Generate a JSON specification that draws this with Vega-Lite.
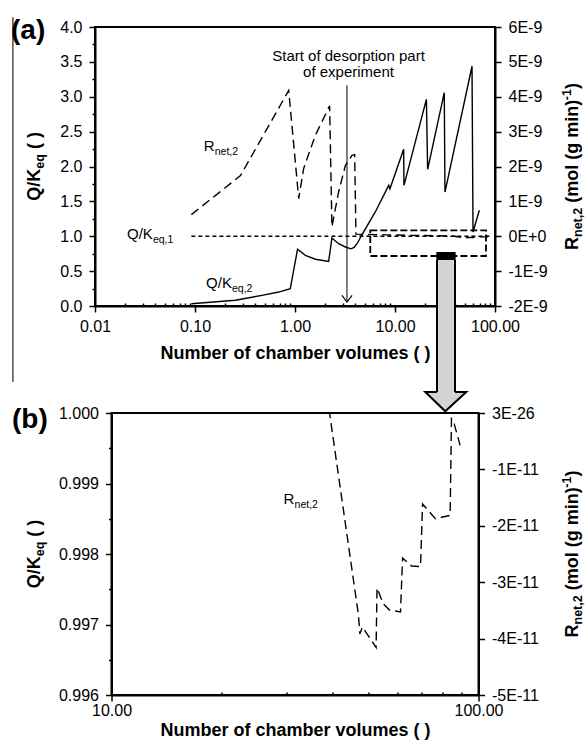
{
  "$schema": "https://vega.github.io/schema/vega-lite/v6.json",
  "padding": {"left": 9, "top": 15, "right": 2, "bottom": 2},
  "spacing": 107,
  "bounds": "flush",
  "center": true,
  "datasets": {
    "qk2": [{"x":0.092,"y":0.033},{"x":0.253,"y":0.082},{"x":0.468,"y":0.153},{"x":0.687,"y":0.2},{"x":0.897,"y":0.248},{"x":1.06,"y":0.813},{"x":1.27,"y":0.727},{"x":1.6,"y":0.67},{"x":2.17,"y":0.64},{"x":2.34,"y":0.975},{"x":2.73,"y":0.893},{"x":3.19,"y":0.846},{"x":3.63,"y":0.82},{"x":3.9,"y":0.84},{"x":4.2,"y":0.9},{"x":4.68,"y":1.022},{"x":6.35,"y":1.348},{"x":8.65,"y":1.73},{"x":8.9,"y":1.68},{"x":12.2,"y":2.247},{"x":12.3,"y":1.73},{"x":20.6,"y":2.963},{"x":21.2,"y":1.96},{"x":31.1,"y":3.058},{"x":31.6,"y":1.634},{"x":58.9,"y":3.437},{"x":60.3,"y":1.061},{"x":69.7,"y":1.372}],
    "qk1": [{"x":0.092,"y":1},{"x":88,"y":1}],
    "rnet": [{"x":0.092,"r":6.2e-10},{"x":0.285,"r":1.74e-9},{"x":0.865,"r":4.18e-9},{"x":1.089,"r":1.08e-9},{"x":1.22,"r":1.94e-9},{"x":1.6,"r":2.9e-9},{"x":2.17,"r":3.68e-9},{"x":2.22,"r":3.74e-9},{"x":2.34,"r":2.7e-10},{"x":2.73,"r":1.27e-9},{"x":3.19,"r":2.03e-9},{"x":3.72,"r":2.32e-9},{"x":3.95,"r":2.34e-9},{"x":4.07,"r":6e-11},{"x":8,"r":4e-11},{"x":15,"r":2.5e-11},{"x":25,"r":1.5e-11},{"x":33,"r":9e-12},{"x":38.2,"r":5.2e-12},{"x":39.3,"r":-1.2e-13},{"x":47.1,"r":-3.587e-11},{"x":47.5,"r":-3.918e-11},{"x":48.3,"r":-3.794e-11},{"x":52.6,"r":-4.158e-11},{"x":52.9,"r":-3.103e-11},{"x":55,"r":-3.38e-11},{"x":57.2,"r":-3.493e-11},{"x":61.3,"r":-3.528e-11},{"x":62.1,"r":-2.571e-11},{"x":65.7,"r":-2.713e-11},{"x":69.5,"r":-2.722e-11},{"x":70.4,"r":-1.613e-11},{"x":76.3,"r":-1.874e-11},{"x":83.7,"r":-1.814e-11},{"x":84.4,"r":-1.01e-12},{"x":85.5,"r":-1.5e-12},{"x":89.1,"r":-5.73e-12}]
  },
  "vconcat": [
    {
      "width": 400,
      "height": 279,
      "resolve": {"scale": {"y": "independent"}},
      "layer": [
        {
          "encoding": {
            "x": {"field": "x", "type": "quantitative", "scale": {"type": "log", "domain": [0.01, 100], "nice": false},
              "axis": {"values": [0.01,0.02,0.03,0.04,0.05,0.06,0.07,0.08,0.09,0.1,0.2,0.3,0.4,0.5,0.6,0.7,0.8,0.9,1,2,3,4,5,6,7,8,9,10,20,30,40,50,60,70,80,90,100],
                "labelExpr": "indexof([0.01,0.1,1,10,100], datum.value) >= 0 ? format(datum.value, '.2f') : ''",
                "tickSize": {"condition": {"test": "indexof([0.01,0.1,1,10,100], datum.value) < 0", "value": -3}, "value": 6},
                "labelPadding": 6, "title": "Number of chamber volumes ( )", "titlePadding": 10}},
            "y": {"field": "y", "type": "quantitative", "scale": {"domain": [0, 4], "nice": false, "zero": false},
              "axis": {"values": [0,0.25,0.5,0.75,1,1.25,1.5,1.75,2,2.25,2.5,2.75,3,3.25,3.5,3.75,4],
                "labelExpr": "datum.value % 0.5 == 0 ? format(datum.value, '.1f') : ''",
                "tickSize": {"condition": {"test": "datum.value % 0.5 != 0", "value": 3}, "value": 6},
                "labelPadding": 7, "title": null}}
          },
          "layer": [
            {"data": {"values": [{"x": 0.00151, "y": 4.14, "y2": -1.09}]}, "mark": {"type": "rule", "color": "#222", "strokeWidth": 1.2}, "encoding": {"y2": {"field": "y2"}}},
            {"data": {"name": "qk1"}, "mark": {"type": "line", "color": "black", "strokeWidth": 1.3, "strokeDash": [4, 3]}},
            {"data": {"name": "qk2"}, "mark": {"type": "line", "color": "black", "strokeWidth": 1.4}},
            {"data": {"values": [{"x": 5.66, "x2": 81.3, "y": 1.085, "y2": 0.717}]}, "mark": {"type": "rect", "fill": "transparent", "stroke": "black", "strokeWidth": 1.8, "strokeDash": [7, 3]}, "encoding": {"x2": {"field": "x2"}, "y2": {"field": "y2"}}},
            {"data": {"values": [{"x": 3.31, "y": 3.164, "y2": 0.057}]}, "mark": {"type": "rule", "color": "black", "strokeWidth": 1}, "encoding": {"y2": {"field": "y2"}}},
            {"data": {"values": [{"x": 2.95, "y": 0.153}, {"x": 3.31, "y": 0.057}, {"x": 3.72, "y": 0.153}]}, "mark": {"type": "line", "color": "black", "strokeWidth": 1.2}},
            {"data": {"values": [{"x": 26.3, "x2": 39.8, "y": 0.66, "y2": -1.233}]}, "mark": {"type": "rect", "fill": "#d3d3d3"}, "encoding": {"x2": {"field": "x2"}, "y2": {"field": "y2"}}},
            {"data": {"values": [{"x": 26.3, "y": 0.66, "y2": -1.233}, {"x": 39.8, "y": 0.66, "y2": -1.233}]}, "mark": {"type": "rule", "color": "black", "strokeWidth": 2}, "encoding": {"y2": {"field": "y2"}}},
            {"data": {"values": [{"x": 25.9, "x2": 40.4, "y": 0.774, "y2": 0.66}]}, "mark": {"type": "rect", "fill": "black"}, "encoding": {"x2": {"field": "x2"}, "y2": {"field": "y2"}}},
            {"data": {"values": [{"x": 20.1, "y": -1.233, "y2": -1.233}, {"x": 31.8, "y": -1.51, "y2": -1.233}, {"x": 51.6, "y": -1.233, "y2": -1.233}]}, "mark": {"type": "area", "color": "#d3d3d3"}, "encoding": {"y2": {"field": "y2"}}},
            {"data": {"values": [{"x": 26.3, "y": -1.233, "o": 1}, {"x": 20.1, "y": -1.233, "o": 2}, {"x": 31.8, "y": -1.51, "o": 3}, {"x": 51.6, "y": -1.233, "o": 4}, {"x": 39.8, "y": -1.233, "o": 5}]}, "mark": {"type": "line", "color": "black", "strokeWidth": 2, "strokeJoin": "miter"}, "encoding": {"order": {"field": "o"}}},
            {"data": {"values": [{"x": 0.001445, "y": 3.828}]}, "mark": {"type": "text", "text": "(a)", "fontSize": 28, "fontWeight": "bold", "align": "left", "baseline": "alphabetic"}},
            {"data": {"values": [{"x": 0.002851, "y": 1.51}]},
              "layer": [
                {"mark": {"type": "text", "text": "Q/K", "fontSize": 18, "fontWeight": "bold", "angle": 270, "align": "left", "baseline": "alphabetic"}},
                {"mark": {"type": "text", "text": "eq", "fontSize": 12.5, "fontWeight": "bold", "angle": 270, "align": "left", "baseline": "alphabetic", "dx": 32, "dy": 4}},
                {"mark": {"type": "text", "text": "( )", "fontSize": 18, "fontWeight": "bold", "angle": 270, "align": "left", "baseline": "alphabetic", "dx": 51.6}}
              ]},
            {"data": {"values": [{"x": 676, "y": 0.803}]},
              "layer": [
                {"mark": {"type": "text", "text": "R", "fontSize": 18, "fontWeight": "bold", "angle": 270, "align": "left", "baseline": "alphabetic"}},
                {"mark": {"type": "text", "text": "net,2", "fontSize": 12.5, "fontWeight": "bold", "angle": 270, "align": "left", "baseline": "alphabetic", "dx": 13, "dy": 4}},
                {"mark": {"type": "text", "text": "(mol (g min)", "fontSize": 18, "fontWeight": "bold", "angle": 270, "align": "left", "baseline": "alphabetic", "dx": 47.2}},
                {"mark": {"type": "text", "text": "-1", "fontSize": 12.5, "fontWeight": "bold", "angle": 270, "align": "left", "baseline": "alphabetic", "dx": 149.8, "dy": -7}},
                {"mark": {"type": "text", "text": ")", "fontSize": 18, "fontWeight": "bold", "angle": 270, "align": "left", "baseline": "alphabetic", "dx": 160.9}}
              ]},
            {"data": {"values": [{"x": 3.43, "y": 3.513}]}, "mark": {"type": "text", "text": "Start of desorption part", "fontSize": 15, "align": "center", "baseline": "alphabetic"}},
            {"data": {"values": [{"x": 3.43, "y": 3.276}]}, "mark": {"type": "text", "text": "of experiment", "fontSize": 15, "align": "center", "baseline": "alphabetic"}},
            {"data": {"values": [{"x": 0.1222, "y": 2.218}]},
              "layer": [
                {"mark": {"type": "text", "text": "R", "fontSize": 15, "align": "left", "baseline": "alphabetic"}},
                {"mark": {"type": "text", "text": "net,2", "fontSize": 10.5, "align": "left", "baseline": "alphabetic", "dx": 11, "dy": 4}}
              ]},
            {"data": {"values": [{"x": 0.0209, "y": 0.956}]},
              "layer": [
                {"mark": {"type": "text", "text": "Q/K", "fontSize": 15, "align": "left", "baseline": "alphabetic"}},
                {"mark": {"type": "text", "text": "eq,1", "fontSize": 10.5, "align": "left", "baseline": "alphabetic", "dx": 25.9, "dy": 4}}
              ]},
            {"data": {"values": [{"x": 0.129, "y": 0.262}]},
              "layer": [
                {"mark": {"type": "text", "text": "Q/K", "fontSize": 15, "align": "left", "baseline": "alphabetic"}},
                {"mark": {"type": "text", "text": "eq,2", "fontSize": 10.5, "align": "left", "baseline": "alphabetic", "dx": 25.9, "dy": 4}}
              ]}
          ]
        },
        {
          "data": {"name": "rnet"},
          "mark": {"type": "line", "color": "black", "strokeWidth": 1.4, "strokeDash": [9, 5]},
          "encoding": {
            "x": {"field": "x", "type": "quantitative", "scale": {"type": "log", "domain": [0.01, 100], "nice": false}},
            "y": {"field": "r", "type": "quantitative", "scale": {"domain": [-2e-9, 6e-9], "nice": false, "zero": false},
              "axis": {"orient": "right", "values": [-2e-9,-1e-9,0,1e-9,2e-9,3e-9,4e-9,5e-9,6e-9],
                "labelExpr": "datum.value == 0 ? '0E+0' : round(datum.value*1e9) + 'E-9'",
                "tickSize": 6, "labelPadding": 7, "title": null}}
          }
        }
      ]
    },
    {
      "width": 367,
      "height": 282,
      "resolve": {"scale": {"y": "independent"}},
      "layer": [
        {
          "encoding": {
            "x": {"field": "x", "type": "quantitative", "scale": {"type": "log", "domain": [10, 100], "nice": false},
              "axis": {"values": [10,20,30,40,50,60,70,80,90,100],
                "labelExpr": "datum.value == 10 || datum.value == 100 ? format(datum.value, '.2f') : ''",
                "tickSize": {"condition": {"test": "datum.value != 10 && datum.value != 100", "value": -3}, "value": 6},
                "labelPadding": 1, "title": "Number of chamber volumes ( )", "titlePadding": 3}},
            "y": {"field": "y", "type": "quantitative", "scale": {"domain": [0.996, 1], "nice": false, "zero": false},
              "axis": {"values": [0.996,0.9965,0.997,0.9975,0.998,0.9985,0.999,0.9995,1],
                "labelExpr": "round(datum.value*2000) % 2 == 0 ? format(datum.value, '.3f') : ''",
                "tickSize": {"condition": {"test": "round(datum.value*2000) % 2 == 1", "value": 3}, "value": 6},
                "labelPadding": 7, "title": null}}
          },
          "layer": [
            {"data": {"values": [{"x": 5.357, "y": 0.9997872}]}, "mark": {"type": "text", "text": "(b)", "fontSize": 28, "fontWeight": "bold", "align": "left", "baseline": "alphabetic"}},
            {"data": {"values": [{"x": 6.405, "y": 0.9975135}]},
              "layer": [
                {"mark": {"type": "text", "text": "Q/K", "fontSize": 18, "fontWeight": "bold", "angle": 270, "align": "left", "baseline": "alphabetic"}},
                {"mark": {"type": "text", "text": "eq", "fontSize": 12.5, "fontWeight": "bold", "angle": 270, "align": "left", "baseline": "alphabetic", "dx": 32, "dy": 4}},
                {"mark": {"type": "text", "text": "( )", "fontSize": 18, "fontWeight": "bold", "angle": 270, "align": "left", "baseline": "alphabetic", "dx": 51.6}}
              ]},
            {"data": {"values": [{"x": 186.7, "y": 0.9968156}]},
              "layer": [
                {"mark": {"type": "text", "text": "R", "fontSize": 18, "fontWeight": "bold", "angle": 270, "align": "left", "baseline": "alphabetic"}},
                {"mark": {"type": "text", "text": "net,2", "fontSize": 12.5, "fontWeight": "bold", "angle": 270, "align": "left", "baseline": "alphabetic", "dx": 13, "dy": 4}},
                {"mark": {"type": "text", "text": "(mol (g min)", "fontSize": 18, "fontWeight": "bold", "angle": 270, "align": "left", "baseline": "alphabetic", "dx": 47.2}},
                {"mark": {"type": "text", "text": "-1", "fontSize": 12.5, "fontWeight": "bold", "angle": 270, "align": "left", "baseline": "alphabetic", "dx": 149.8, "dy": -7}},
                {"mark": {"type": "text", "text": ")", "fontSize": 18, "fontWeight": "bold", "angle": 270, "align": "left", "baseline": "alphabetic", "dx": 160.9}}
              ]},
            {"data": {"values": [{"x": 29.43, "y": 0.998713}]},
              "layer": [
                {"mark": {"type": "text", "text": "R", "fontSize": 15, "align": "left", "baseline": "alphabetic"}},
                {"mark": {"type": "text", "text": "net,2", "fontSize": 10.5, "align": "left", "baseline": "alphabetic", "dx": 11, "dy": 4}}
              ]}
          ]
        },
        {
          "data": {"name": "rnet"},
          "mark": {"type": "line", "color": "black", "strokeWidth": 1.4, "strokeDash": [9, 5], "clip": true},
          "encoding": {
            "x": {"field": "x", "type": "quantitative", "scale": {"type": "log", "domain": [10, 100], "nice": false}},
            "y": {"field": "r", "type": "quantitative", "scale": {"domain": [-5e-11, 0], "nice": false, "zero": false},
              "axis": {"orient": "right", "values": [-5e-11,-4e-11,-3e-11,-2e-11,-1e-11,0],
                "labelExpr": "datum.value == 0 ? '3E-26' : round(datum.value*1e11) + 'E-11'",
                "tickSize": 6, "labelPadding": 7, "title": null}}
          }
        }
      ]
    }
  ],
  "config": {
    "font": "Liberation Sans",
    "view": {"stroke": "black", "strokeWidth": 2},
    "text": {"color": "black", "font": "Liberation Sans"},
    "axis": {"domainColor": "black", "domainWidth": 2, "tickColor": "black", "tickWidth": 1.5, "labelColor": "black", "labelFont": "Liberation Sans", "labelFontSize": 16, "titleFont": "Liberation Sans", "titleFontSize": 18, "titleFontWeight": "bold", "titleColor": "black", "grid": false, "labelOverlap": false, "labelFlush": false, "labelBound": false}
  }
}
